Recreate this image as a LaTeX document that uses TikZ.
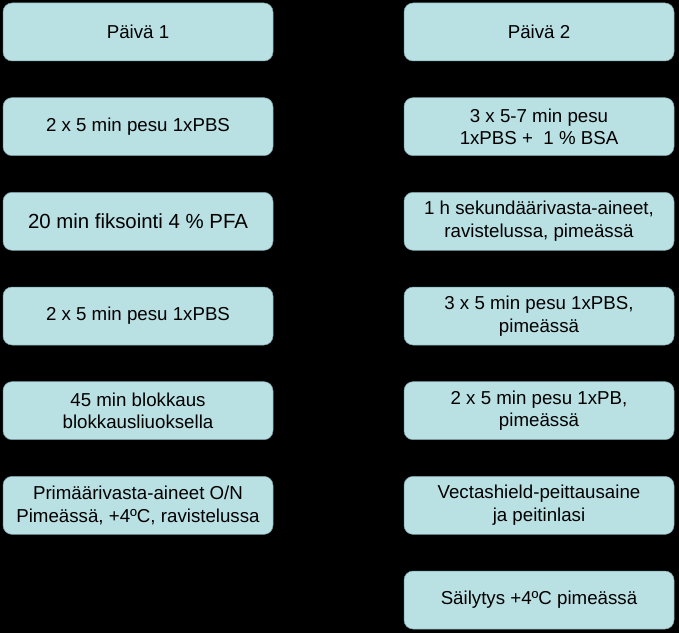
\documentclass[tikz,border=0pt]{standalone}
\usepackage{fontspec}
\setmainfont{Liberation Sans}
\usepackage{tikz}
\usetikzlibrary{positioning}
\definecolor{boxblue}{RGB}{185,224,227}
\definecolor{boxedge}{RGB}{120,160,165}

\begin{document}
\begin{tikzpicture}[
        x=1pt, y=1pt,
        node distance=36.67pt,
        every node/.style={fill=boxblue, draw=boxedge, line width=0.5pt, outer sep=0pt, rounded corners=9pt, minimum height=58pt, minimum width=270pt, inner sep=0pt, align=center, font=\fontsize{18.7}{22.6}\selectfont}
        ]
        \fill[black] (0,0) rectangle (679,633);
        \useasboundingbox (0,0) rectangle (679,633);
        
        % Day 1
        \node (paiva1) at (138,601) {Päivä 1};
        \node[below=of paiva1] (pesu1) {2 x 5 min pesu 1xPBS};
        \node[below=of pesu1, font=\fontsize{20.4}{24}\selectfont] (fiksointi) {20 min fiksointi 4 \% PFA};
        \node[below=of fiksointi] (pesu2) {2 x 5 min pesu 1xPBS};
        \node[below=of pesu2] (blokkaus) {45 min blokkaus\\blokkausliuoksella};
        \node[below=of blokkaus] (primaari) {Primäärivasta-aineet O/N\\Pimeässä, +4ºC, ravistelussa};
        
        % Day 2
        \node (paiva2) at (539,601) {Päivä 2};
        \node[below=of paiva2] (pesu3) {3 x 5-7 min pesu\\1xPBS +~~1 \% BSA};
        \node[below=of pesu3] (sekundaari) {1 h sekundäärivasta-aineet,\\ravistelussa, pimeässä};
        \node[below=of sekundaari] (pesu4) {3 x 5 min pesu 1xPBS,\\pimeässä};
        \node[below=of pesu4] (pesu5) {2 x 5 min pesu 1xPB,\\pimeässä};
        \node[below=of pesu5] (vectashield) {Vectashield-peittausaine\\ja peitinlasi};
        \node[below=of vectashield] (sailytys) {Säilytys +4ºC pimeässä};
        
        \end{tikzpicture}
\end{document}
